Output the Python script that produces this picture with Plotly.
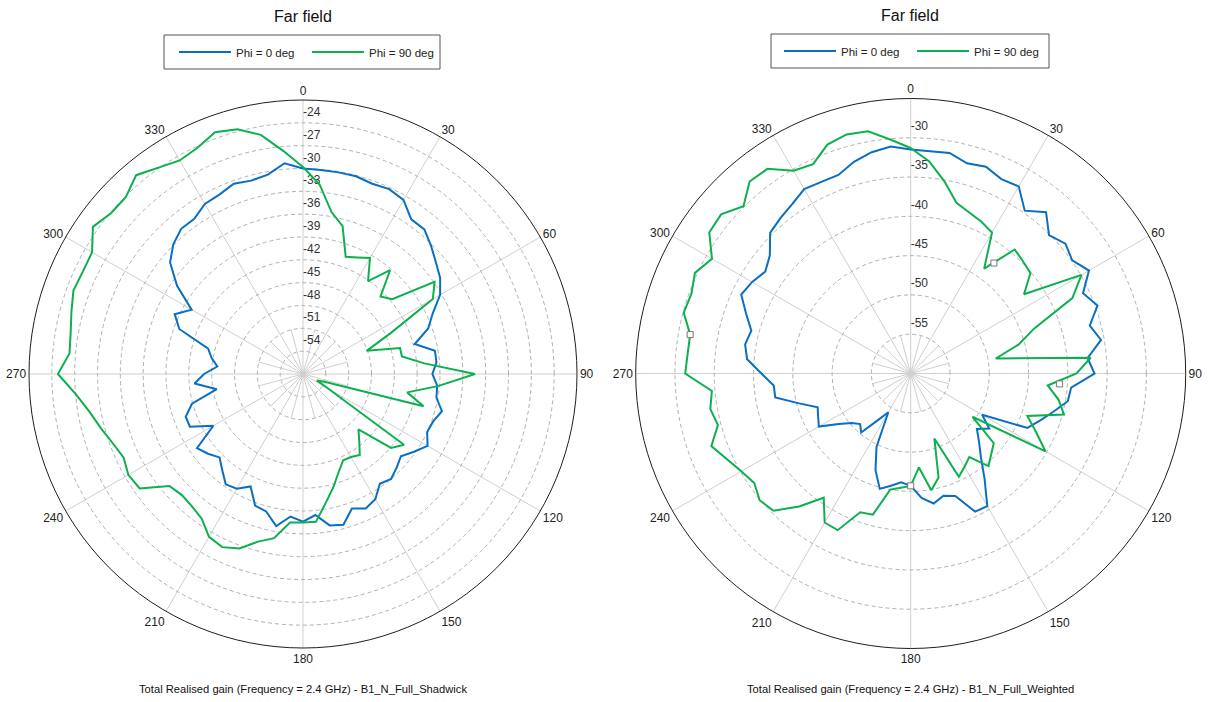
import plotly.graph_objects as go

# ---------------- data ----------------
angles = list(range(0, 360, 5))
angle_ticks = list(range(0, 360, 30))
angle_labels = [str(a) for a in angle_ticks]
minor_spoke_angles = [a for a in range(15, 360, 30)]

# Left chart: B1_N_Full_Shadwick (dB)
left_phi0 = [
    -30.0, -30.1, -30.1, -30.1, -30.4, -30.2, -30.6, -32.2, -32.2, -33.2, -34.2, -35.0,
    -36.2, -38.2, -39.5, -41.8, -39.4, -39.4, -40.0, -39.3, -39.2, -38.1, -38.8, -39.0,
    -38.1, -39.2, -40.2, -39.6, -39.0, -39.4, -38.0, -37.5, -38.2, -36.5, -36.8, -38.4,
    -37.6, -38.2, -36.7, -38.3, -38.6, -40.7, -39.6, -39.3, -40.5, -41.5, -40.7, -40.0,
    -43.4, -40.6, -40.6, -41.9, -45.5, -42.7, -44.0, -45.7, -44.8, -44.1, -39.7, -38.4,
    -40.1, -36.8, -34.2, -32.9, -32.1, -32.1, -31.2, -31.0, -30.4, -30.7, -30.4, -29.2,
]
left_phi90 = [
    -29.8, -32.0, -35.4, -36.9, -40.6, -40.1, -39.4, -42.1, -39.2, -42.6, -41.7, -35.9,
    -37.3, -44.3, -48.1, -43.8, -43.8, -41.0, -34.4, -39.1, -43.1, -40.6, -54.0, -55.0,
    -53.2, -40.8, -41.9, -46.7, -45.5, -44.0, -44.4, -44.5, -43.3, -41.6, -39.8, -37.5,
    -37.5, -37.4, -35.1, -34.2, -32.6, -31.9, -32.3, -33.8, -34.3, -34.5, -34.1, -30.8,
    -30.5, -31.0, -30.4, -29.5, -28.5, -27.0, -24.8, -26.2, -26.0, -25.5, -24.9, -25.1,
    -25.0, -23.3, -24.1, -24.1, -22.9, -23.9, -24.6, -24.2, -23.2, -23.7, -25.1, -27.6,
]
left_ticks = [-24, -27, -30, -33, -36, -39, -42, -45, -48, -51, -54]
left_range = [-57, -21]
left_minor_spoke_end = -51

# Right chart: B1_N_Full_Weighted (dB)
right_phi0 = [
    -31.5, -31.6, -31.5, -32.3, -32.0, -32.7, -32.5, -34.7, -33.2, -35.1, -34.3, -34.9,
    -33.8, -35.8, -34.7, -36.4, -35.4, -37.4, -36.6, -39.5, -39.7, -41.2, -42.5, -43.6,
    -49.5, -47.8, -49.0, -47.7, -46.1, -43.6, -40.5, -40.6, -43.4, -43.9, -43.2, -44.1,
    -45.7, -46.1, -45.5, -44.8, -46.9, -49.7, -54.3, -52.8, -50.2, -50.9, -50.2, -48.8,
    -46.5, -47.0, -47.4, -45.3, -42.5, -42.5, -41.0, -39.1, -38.6, -39.0, -37.7, -36.2,
    -36.7, -37.4, -36.6, -34.7, -34.2, -33.7, -32.9, -33.1, -33.1, -32.1, -31.4, -31.0,
]
right_phi90 = [
    -31.3, -32.9, -35.2, -37.5, -38.2, -38.7, -39.3, -43.7, -39.4, -39.8, -40.1, -42.4,
    -34.9, -37.3, -43.3, -45.8, -49.0, -37.0, -38.9, -42.5, -40.9, -39.8, -44.2, -42.4,
    -40.2, -50.4, -46.2, -45.5, -44.6, -47.0, -46.3, -45.5, -51.2, -46.3, -44.9, -48.0,
    -45.7, -45.4, -45.0, -41.4, -41.2, -38.0, -38.1, -40.7, -37.9, -35.3, -34.9, -35.7,
    -35.1, -34.2, -33.0, -34.6, -34.1, -34.6, -31.3, -31.5, -31.5, -30.1, -30.3, -29.7,
    -30.8, -28.7, -28.5, -29.9, -28.1, -28.2, -30.2, -30.6, -29.0, -28.5, -28.7, -30.1,
]
right_marker_theta = [37, 94, 180, 280]
right_marker_r = [-42.4, -41.0, -45.7, -31.5]
right_ticks = [-30, -35, -40, -45, -50, -55]
right_range = [-60, -25]
right_minor_spoke_end = -55

series_names = ["Phi = 0 deg", "Phi = 90 deg"]
titles = ["Far field", "Far field"]
captions = [
    "Total Realised gain (Frequency = 2.4 GHz) - B1_N_Full_Shadwick",
    "Total Realised gain (Frequency = 2.4 GHz) - B1_N_Full_Weighted",
]

# ---------------- style ----------------
BLUE = "#0a6fc2"
GREEN = "#0db04f"
GRID = "#cfcfcf"
FONT = "Liberation Sans, Arial, sans-serif"
W, H = 1208, 702


def px(x):
    return x / W


def py(y):
    return 1 - y / H


def closed(vals):
    return list(vals) + [vals[0]]


fig = go.Figure()


def add_chart(subplot, legend, phi0, phi90, ticks, rng, spoke_end, label_off):
    # short extra spokes around the centre
    sr, st = [], []
    for a in minor_spoke_angles:
        sr += [rng[0], spoke_end, None]
        st += [a, a, None]
    fig.add_trace(go.Scatterpolar(
        r=sr, theta=st, mode="lines", line=dict(color=GRID, width=1),
        showlegend=False, hoverinfo="skip", subplot=subplot))
    # radial tick labels along the 0 deg spoke
    fig.add_trace(go.Scatterpolar(
        r=[t + label_off for t in ticks], theta=[0] * len(ticks),
        mode="text", text=[str(t) for t in ticks], textposition="middle right",
        textfont=dict(size=12, color="#333333", family=FONT),
        showlegend=False, hoverinfo="skip", subplot=subplot))
    fig.add_trace(go.Scatterpolar(
        r=closed(phi0), theta=angles + [360],
        mode="lines", line=dict(color=BLUE, width=2), name=series_names[0],
        subplot=subplot, legend=legend))
    fig.add_trace(go.Scatterpolar(
        r=closed(phi90), theta=angles + [360],
        mode="lines", line=dict(color=GREEN, width=2), name=series_names[1],
        subplot=subplot, legend=legend))


add_chart("polar", "legend", left_phi0, left_phi90, left_ticks, left_range,
          left_minor_spoke_end, 1.3)
add_chart("polar2", "legend2", right_phi0, right_phi90, right_ticks, right_range,
          right_minor_spoke_end, 1.35)

fig.add_trace(go.Scatterpolar(
    r=right_marker_r, theta=right_marker_theta, mode="markers",
    marker=dict(symbol="square", size=6, color="white",
                line=dict(color="#777777", width=1)),
    showlegend=False, hoverinfo="skip", subplot="polar2"))


def polar_layout(cx, cy, rad, rng, ticks):
    return dict(
        domain=dict(x=[px(cx - rad), px(cx + rad)],
                    y=[py(cy + rad), py(cy - rad)]),
        bgcolor="white",
        angularaxis=dict(
            rotation=90, direction="clockwise",
            tickmode="array", tickvals=angle_ticks, ticktext=angle_labels,
            showline=True, linecolor="#1e1e1e", linewidth=1,
            gridcolor=GRID, gridwidth=1, ticks="",
            tickfont=dict(size=12, color="#222222", family=FONT)),
        radialaxis=dict(
            range=rng, tickmode="array", tickvals=ticks,
            showticklabels=False, ticks="", showline=False,
            gridcolor="#b0b0b0", gridwidth=1, griddash="4px,3px"),
    )


def legend_layout(left, cy):
    return dict(
        x=px(left), xanchor="left", y=py(cy), yanchor="middle",
        orientation="h", borderwidth=0, bgcolor="rgba(0,0,0,0)",
        font=dict(size=11.5, color="#222222", family=FONT),
        itemwidth=52, entrywidth=66)


def box(x0, y0, x1, y1):
    return dict(type="rect", xref="paper", yref="paper",
                x0=px(x0), x1=px(x1), y0=py(y1), y1=py(y0),
                line=dict(color="#555555", width=1), fillcolor="rgba(0,0,0,0)")


def text_ann(txt, x, y, size):
    return dict(text=txt, x=px(x), y=py(y), xref="paper", yref="paper",
                xanchor="center", yanchor="middle", showarrow=False,
                font=dict(size=size, color="#111111", family=FONT))


fig.update_layout(
    width=W, height=H, margin=dict(l=0, r=0, t=0, b=0),
    paper_bgcolor="white", plot_bgcolor="white",
    font=dict(family=FONT),
    polar=polar_layout(303, 374, 274, left_range, left_ticks),
    polar2=polar_layout(910.7, 373.5, 275, right_range, right_ticks),
    legend=legend_layout(174, 52),
    legend2=legend_layout(779, 51),
    shapes=[box(164, 35, 440, 69), box(771, 34, 1049, 68)],
    annotations=[
        text_ann(titles[0], 303, 17, 16),
        text_ann(titles[1], 910, 15, 16),
        text_ann(captions[0], 303, 689, 11.2),
        text_ann(captions[1], 910, 689, 11.2),
    ],
)

# remove the browser's default 8px page margin so the figure fills the window
fig.write_html("out.html", config={"displayModeBar": False},
               post_script="document.body.style.margin='0';")
